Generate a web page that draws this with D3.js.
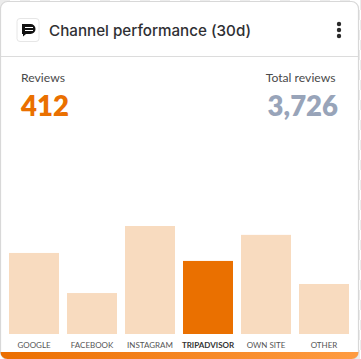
<!DOCTYPE html>
<html><head><meta charset="utf-8">
<script src="https://cdn.jsdelivr.net/npm/d3@7/dist/d3.min.js"></script>
<style>html,body{margin:0;padding:0;background:#fff}svg{display:block}</style>
</head><body><div id="c"></div>
<script>
const categories=["GOOGLE","FACEBOOK","INSTAGRAM","TRIPADVISOR","OWN SITE","OTHER"];
const reviews=[457,231,609,412,559,282];
const highlighted="TRIPADVISOR";
const title="Channel performance (30d)";
const leftLabel="Reviews", leftValue="412";
const rightLabel="Total reviews", rightValue="3,726";

const W=361,H=359;
const svg=d3.select("#c").append("svg").attr("width",W).attr("height",H);
const defs=svg.append("defs");
const pat=defs.append("pattern").attr("id","chk").attr("width",20).attr("height",20).attr("patternUnits","userSpaceOnUse");
pat.append("rect").attr("width",20).attr("height",20).attr("fill","#fff");
pat.append("rect").attr("width",10).attr("height",10).attr("fill","#ececec");
pat.append("rect").attr("x",10).attr("y",10).attr("width",10).attr("height",10).attr("fill","#ececec");
const grad=defs.append("linearGradient").attr("id","bar");
grad.append("stop").attr("offset","0").attr("stop-color","#eb6e00");
grad.append("stop").attr("offset","1").attr("stop-color","#ff9c42");
defs.append("clipPath").attr("id","card").append("rect").attr("x",0.5).attr("y",1.5).attr("width",358).attr("height",357.5).attr("rx",7);

svg.append("rect").attr("width",W).attr("height",H).attr("fill","url(#chk)");
svg.append("rect").attr("x",0.5).attr("y",1.5).attr("width",358).attr("height",357.5).attr("rx",7).attr("fill","#fff").attr("stroke","#d8d8d8").attr("stroke-width",1.2);
svg.append("rect").attr("x",0).attr("y",352).attr("width",W).attr("height",7).attr("fill","url(#bar)").attr("clip-path","url(#card)");
svg.append("line").attr("x1",1).attr("x2",358).attr("y1",56.5).attr("y2",56.5).attr("stroke","#dcdcdc");

// header icon
svg.append("rect").attr("x",17).attr("y",18.5).attr("width",22).attr("height",23).attr("rx",3).attr("fill","#fff").attr("stroke","#e6e6e6");
const ic=svg.append("g").attr("fill","#111");
ic.append("path").attr("d","M22 24h8.5a5 5 0 0 1 0 10H26l-3 2.5v-2.5H22z");
ic.append("g").attr("stroke","#fff").attr("stroke-width",1).selectAll("line").data([27.5,30.5]).join("line").attr("x1",25).attr("x2",33).attr("y1",d=>d).attr("y2",d=>d);

const head="Inter, 'Noto Sans', sans-serif";
svg.append("text").attr("x",49).attr("y",35.5).attr("font-family",head).attr("font-size",15.2).attr("font-weight",500).attr("fill","#2f2f33").text(title);
svg.append("g").attr("fill","#2b2b2b").selectAll("circle").data([24,30,36]).join("circle").attr("cx",339).attr("cy",d=>d).attr("r",2.2);

svg.append("text").attr("x",21).attr("y",82).attr("font-family","Lato").attr("font-size",12.2).attr("fill","#4a4a4a").text(leftLabel);
svg.append("text").attr("x",335.5).attr("y",82).attr("text-anchor","end").attr("font-family","Lato").attr("font-size",12.2).attr("fill","#4a4a4a").text(rightLabel);
svg.append("text").attr("x",21).attr("y",115.5).attr("font-family","Lato").attr("font-size",27.5).attr("font-weight",800).attr("fill","#ea7000").text(leftValue);
svg.append("text").attr("x",338).attr("y",115.5).attr("text-anchor","end").attr("font-family","Lato").attr("font-size",27.5).attr("font-weight",800).attr("fill","#98a4b9").text(rightValue);

const x=d3.scaleBand().domain(categories).range([5,353]).paddingInner(8/58).paddingOuter(4/58);
const y=d3.scaleLinear().domain([0,609]).range([334,226]);
const rows=categories.map((c,i)=>({c,v:reviews[i]}));
svg.append("g").selectAll("rect").data(rows).join("rect")
 .attr("x",d=>x(d.c)).attr("width",x.bandwidth()).attr("y",d=>y(d.v)).attr("height",d=>y(0)-y(d.v))
 .attr("fill",d=>d.c===highlighted?"#ea7000":"#f8dbbf");
const ax=d3.axisBottom(x).tickSize(0).tickPadding(0);
const g=svg.append("g").attr("transform","translate(0,338)").call(ax);
g.select(".domain").remove();
g.selectAll("text").attr("font-family","Lato").attr("font-size",8).attr("dy",0).attr("y",9.5)
 .attr("fill",d=>d===highlighted?"#333":"#555").attr("font-weight",d=>d===highlighted?700:400);
</script></body></html>
